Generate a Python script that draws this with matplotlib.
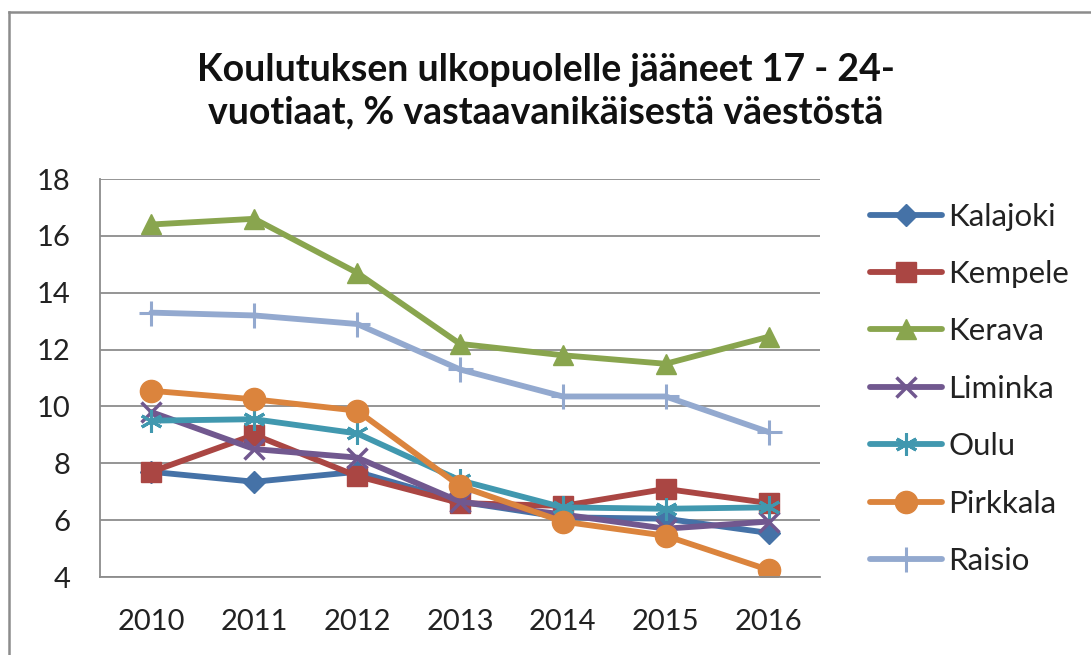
import matplotlib
matplotlib.use("Agg")
import matplotlib.pyplot as plt
from matplotlib.lines import Line2D

years = ["2010", "2011", "2012", "2013", "2014", "2015", "2016"]
kalajoki = [7.7, 7.35, 7.7, 6.65, 6.1, 6.05, 5.55]
kempele = [7.7, 9.0, 7.55, 6.6, 6.5, 7.1, 6.6]
kerava = [16.4, 16.6, 14.7, 12.2, 11.8, 11.5, 12.45]
liminka = [9.8, 8.5, 8.2, 6.65, 6.2, 5.7, 5.95]
oulu = [9.5, 9.55, 9.05, 7.4, 6.45, 6.4, 6.45]
pirkkala = [10.55, 10.25, 9.85, 7.2, 5.95, 5.45, 4.25]
raisio = [13.3, 13.2, 12.9, 11.3, 10.35, 10.35, 9.1]

names = ["Kalajoki", "Kempele", "Kerava", "Liminka", "Oulu", "Pirkkala", "Raisio"]
series = [kalajoki, kempele, kerava, liminka, oulu, pirkkala, raisio]
colors = ["#4572A7", "#AA4643", "#89A54E", "#71588F", "#4198AF", "#DB843D", "#93A9CF"]
markers = ["D", "s", "^", "x", (6, 2, 0), "o", "+"]
msizes = [11, 15, 15, 14, 16, 16, 18]
mews = [1, 1, 1, 2.5, 2.2, 1, 2.2]

plt.rcParams['font.family'] = ['Lato', 'DejaVu Sans']

fig = plt.figure(figsize=(10.91, 6.55), dpi=100)
W, H = 1091.0, 655.0
fig.lines.append(Line2D([9 / W, 9 / W], [0, 1 - 12 / H], transform=fig.transFigure,
                        color="#8c8c8c", linewidth=1.8))
fig.lines.append(Line2D([9 / W, 1], [1 - 12 / H, 1 - 12 / H], transform=fig.transFigure,
                        color="#8c8c8c", linewidth=1.8))

ax = fig.add_axes([100 / W, 1 - 577 / H, 720 / W, 398 / H])

x = list(range(len(years)))
for s, n, c, m, ms, mw in zip(series, names, colors, markers, msizes, mews):
    ax.plot(x, s, color=c, linewidth=4.2, marker=m, markersize=ms, markeredgewidth=mw,
            markeredgecolor=c, markerfacecolor=c, label=n, solid_capstyle="round")

ax.set_xlim(-0.5, 6.5)
ax.set_ylim(4, 18)
ax.set_yticks([4, 6, 8, 10, 12, 14, 16, 18])
ax.set_xticks(x)
ax.set_xticklabels(years)
ax.yaxis.grid(True, color="#8c8c8c", linewidth=1.3)
ax.set_axisbelow(True)
for sp in ["top", "right"]:
    ax.spines[sp].set_visible(False)
for sp in ["left", "bottom"]:
    ax.spines[sp].set_color("#8c8c8c")
    ax.spines[sp].set_linewidth(1.3)
ax.tick_params(axis="both", labelsize=21, colors="#222222", length=0)
ax.tick_params(axis="x", pad=23)
ax.tick_params(axis="y", pad=21)

leg = ax.legend(loc="upper left", bbox_to_anchor=(1.052, 0.972), frameon=False, fontsize=22.5,
                handlelength=2.3, handletextpad=0.2, labelspacing=0.94, borderaxespad=0)
for t in leg.get_texts():
    t.set_color("#222222")

fig.text(0.5, 1 - 91 / H, "Koulutuksen ulkopuolelle jääneet 17 - 24-\nvuotiaat, % vastaavanikäisestä väestöstä",
         ha="center", va="center", fontsize=27, fontweight="bold", linespacing=1.3, color="#111111")

fig.savefig("out.png", dpi=100)
